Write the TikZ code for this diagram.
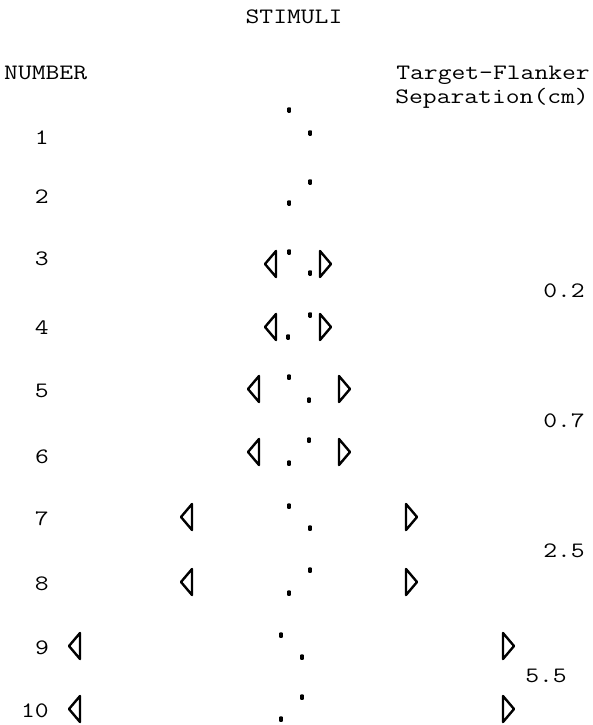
\documentclass[tikz,border=0pt]{standalone}
\usepackage{graphicx}
\newcommand\tw[1]{\scalebox{1.22}[1]{\fontsize{22}{26}\selectfont\ttfamily #1}}
\tikzset{
  lbl/.style={inner sep=0pt},
  dotm/.style={fill=black, draw=none, rectangle, minimum width=3.6pt, minimum height=5.5pt, inner sep=0pt, rounded corners=0.8pt},
  tri/.style={draw=black, line width=2.4pt, line join=round, line cap=round}
}
\newcommand\ltri[3]{\draw[tri] (#2,#3-13) coordinate (#1a) -- (#2,#3+13) -- (#2-11,#3) -- cycle;}
\newcommand\rtri[3]{\draw[tri] (#2,#3-13) coordinate (#1a) -- (#2,#3+13) -- (#2+11,#3) -- cycle;}
\begin{document}
\begin{tikzpicture}[x=1pt,y=-1pt]
\useasboundingbox (0,0) rectangle (592,725);
% headings
\node[lbl, anchor=base] (title) at (294,24) {\tw{STIMULI}};
\node[lbl, anchor=base west] (numhead) at (4,79) {\tw{NUMBER}};
\node[lbl, anchor=base east] (seph1) at (590,79) {\tw{Target-Flanker}};
\node[lbl, anchor=base east] (seph2) at (589,103) {\tw{Separation(cm)}};
% row numbers
\foreach \n/\b in {1/144,2/203,3/265,4/334,5/397,6/463,7/525,8/590,9/654,10/717}
  \node[lbl, anchor=base east] (num\n) at (49,\b) {\tw{\n}};
% separations
\node[lbl, anchor=base east] (s1) at (585,297) {\tw{0.2}};
\node[lbl, anchor=base east] (s2) at (585,427) {\tw{0.7}};
\node[lbl, anchor=base east] (s3) at (585,557) {\tw{2.5}};
\node[lbl, anchor=base east] (s4) at (567,682) {\tw{5.5}};
% dots
\foreach \i/\x/\y in {1a/289/110,1b/310/133,
                      2a/310/182,2b/289/203,
                      3a/289/252,3b/310/273,
                      4a/310/315,4b/288/337,
                      5a/289/377,5b/309/400,
                      6a/309/440,6b/289/463,
                      7a/289/506,7b/310/528,
                      8a/310/570,8b/289/593,
                      9a/281/635,9b/302/657,
                      10a/302/697,10b/281/719}
  \node[dotm] (d\i) at (\x,\y) {};
% flankers
\ltri{l3}{276}{264}  \rtri{r3}{320}{264}
\ltri{l4}{276}{327}  \rtri{r4}{320}{327}
\ltri{l5}{259}{389}  \rtri{r5}{339}{389}
\ltri{l6}{259}{452}  \rtri{r6}{339}{452}
\ltri{l7}{192}{517}  \rtri{r7}{406}{517}
\ltri{l8}{192}{582}  \rtri{r8}{406}{582}
\ltri{l9}{80}{646}   \rtri{r9}{503}{646}
\ltri{l10}{80}{709}  \rtri{r10}{503}{709}
\end{tikzpicture}
\end{document}
